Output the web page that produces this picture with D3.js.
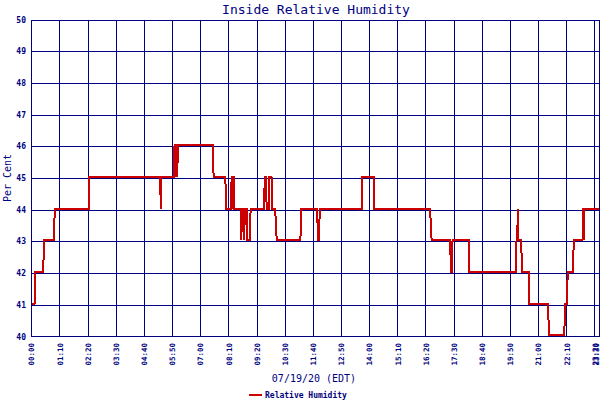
<!DOCTYPE html>
<html><head><meta charset="utf-8">
<script src="https://cdn.jsdelivr.net/npm/d3@7"></script>
<style>body{margin:0;background:#fff}svg{display:block}</style>
</head><body>
<script>
// ---- data ----
const title = "Inside Relative Humidity";
const yTitle = "Per Cent";
const xTitle = "07/19/20 (EDT)";
const seriesName = "Relative Humidity";
const yTicks = [40,41,42,43,44,45,46,47,48,49,50];
const xTickLabels = ["00:00","01:10","02:20","03:30","04:40","05:50","07:00","08:10","09:20","10:30","11:40","12:50","14:00","15:10","16:20","17:30","18:40","19:50","21:00","22:10","23:20","23:30"];
// reading times (HH:MM) and relative humidity values
const times = ["00:00","00:07","00:08","00:29","00:30","00:56","00:57","02:22","02:23","05:19","05:21","05:22",
"05:54","05:55","05:57","05:58","05:59","06:01","06:02","06:03","07:31","07:32","08:01","08:04",
"08:15","08:17","08:18","08:19","08:22","08:23",
"08:40","08:41","08:43","08:47","08:48","08:50","08:54","08:55","09:03","09:04",
"09:38","09:39","09:42","09:44","09:50","09:51","09:56","09:58","10:05","10:09",
"11:08","11:09","11:49","11:52","11:54","11:56","13:41","13:42","14:11","14:12",
"16:30","16:34","17:20","17:22","17:24","17:26","18:07","18:08",
"20:04","20:05","20:07","20:08","20:09","20:17","20:18","20:36","20:37","21:24","21:25",
"22:04","22:05","22:11","22:12","22:26","22:27","22:49","22:51","22:52","22:54","23:30"];
const values = [41,41,42,42,43,43,44,44,45,45,44,45,
45,46,46,45,46,46,45,46,46,45,45,44,
44,45,44,45,45,44,
44,43,44,44,43,44,44,43,43,44,
44,45,45,44,44,45,45,44,44,43,
43,44,44,43,43,44,44,45,45,44,
44,43,43,42,42,43,43,42,
42,43,43,44,43,43,42,42,41,41,40,
40,41,41,42,42,43,43,44,43,44,44];

const W = 600, H = 400;
const navy = "#000080", red = "#cc0000";
const toMin = s => { const [h,m] = s.split(":").map(Number); return h*60+m; };
const data = times.map((t,i) => ({t: toMin(t), v: values[i]}));

const svg = d3.select("body").append("svg").attr("width", W).attr("height", H);
const pL = 31.7, pR = 599, pT = 20, pB = 336.7;
const x = d3.scaleLinear().domain([0, toMin(xTickLabels[xTickLabels.length-1])]).range([pL, pR]);
const y = d3.scaleLinear().domain([40, 50]).range([pB, pT]);

// grid
const tickMins = xTickLabels.map(toMin);
const g = svg.append("g").attr("shape-rendering", "crispEdges");
g.append("g").selectAll("line").data(yTicks).join("line")
  .attr("x1", pL).attr("x2", pR).attr("y1", d => y(d)).attr("y2", d => y(d))
  .attr("stroke", navy).attr("stroke-width", 1);
g.append("g").selectAll("line").data(tickMins).join("line")
  .attr("x1", d => x(d)).attr("x2", d => x(d)).attr("y1", pT).attr("y2", pB)
  .attr("stroke", navy).attr("stroke-width", 1);
g.append("rect").attr("x", pL).attr("y", pT).attr("width", pR-pL).attr("height", pB-pT)
  .attr("fill", "none").attr("stroke", navy).attr("stroke-width", 1);

// series
const line = d3.line().x(d => x(d.t)).y(d => y(d.v));
svg.append("path").datum(data).attr("d", line).attr("transform", "translate(0,-1.5)")
  .attr("fill", "none").attr("stroke", red).attr("stroke-width", 2).attr("shape-rendering", "crispEdges");

// y tick labels
svg.append("g").selectAll("text").data(yTicks).join("text")
  .attr("x", 26).attr("y", d => y(d)).attr("dy", "0.35em").attr("text-anchor", "end")
  .attr("font-family", "DejaVu Sans Mono").attr("font-weight", "bold").attr("font-size", 8)
  .attr("fill", navy).text(d => d);

// x tick labels
svg.append("g").selectAll("text").data(xTickLabels).join("text")
  .attr("transform", d => `translate(${Math.min(x(toMin(d))+2.7, 599)},343) rotate(-90)`)
  .attr("text-anchor", "end")
  .attr("font-family", "DejaVu Sans Mono").attr("font-weight", "bold").attr("font-size", 7.5)
  .attr("fill", navy).text(d => d);

// titles
svg.append("text").attr("x", 316).attr("y", 13.5).attr("text-anchor", "middle")
  .attr("font-family", "DejaVu Sans Mono").attr("font-size", 13).attr("fill", navy).text(title);
svg.append("text").attr("transform", "translate(11,178) rotate(-90)").attr("text-anchor", "middle")
  .attr("font-family", "DejaVu Sans Mono").attr("font-size", 10).attr("fill", navy).text(yTitle);
svg.append("text").attr("x", 314).attr("y", 382).attr("text-anchor", "middle")
  .attr("font-family", "DejaVu Sans Mono").attr("font-size", 10).attr("fill", navy).text(xTitle);

// legend
svg.append("line").attr("x1", 249).attr("x2", 262).attr("y1", 395).attr("y2", 395)
  .attr("stroke", red).attr("stroke-width", 2);
svg.append("text").attr("x", 265).attr("y", 398).attr("font-family", "DejaVu Sans Mono")
  .attr("font-weight", "bold").attr("font-size", 8).attr("fill", navy).text(seriesName);
</script>
</body></html>
